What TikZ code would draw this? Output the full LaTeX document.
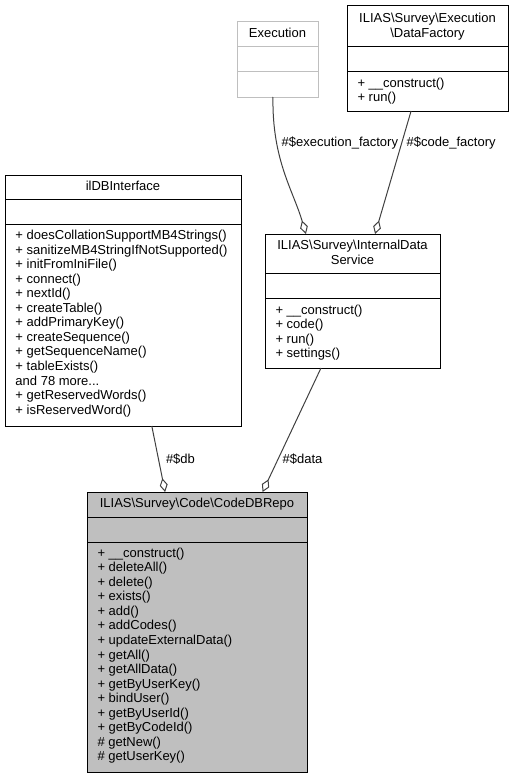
\documentclass[tikz,border=0pt]{standalone}
\usepackage{fontspec}
\setmainfont{Liberation Sans}
\usetikzlibrary{arrows.meta,calc}
\definecolor{edgegray}{HTML}{404040}
\definecolor{boxgray}{HTML}{BFBFBF}
\newcommand{\mydotsx}{...}
\tikzset{
  cls/.style={draw=black, line width=1pt, fill=white, inner sep=0pt, outer sep=0pt, rectangle},
  txt/.style={inner sep=0pt, outer sep=0pt, font=\fontsize{13}{14.55}\selectfont},
  mem/.style={txt, anchor=base west},
  hdr/.style={txt, anchor=base},
  sepline/.style={line width=1pt},
  agg/.style={draw=edgegray, line width=1pt, -{Diamond[open, length=14pt, width=8pt]}},
  elab/.style={txt, anchor=base west},
}
\begin{document}
\begin{tikzpicture}[x=1pt, y=-1pt]
\useasboundingbox (0,0) rectangle (515,779);

% ---- Execution (grey outline)
\node[cls, draw=boxgray, minimum width=81pt, minimum height=76pt] (exec) at (277.5,59) {};
\draw[sepline, boxgray] (237,46) -- (318,46);
\draw[sepline, boxgray] (237,71) -- (318,71);
\node[hdr] (exech) at (277.5,37) {Execution};

% ---- DataFactory
\node[cls, minimum width=161pt, minimum height=106pt] (df) at (427.5,58) {};
\draw[sepline] (347,46) -- (508,46);
\draw[sepline] (347,71) -- (508,71);
\node[hdr] (dfh1) at (427.5,22.5) {ILIAS\textbackslash Survey\textbackslash Execution};
\node[hdr] (dfh2) at (427.5,37) {\textbackslash DataFactory};
\node[mem] (dfm1) at (357.5,87) {+ \_\_construct()};
\node[mem] (dfm2) at (357.5,101.5) {+ run()};

% ---- ilDBInterface
\node[cls, minimum width=236pt, minimum height=251pt] (db) at (123,300.5) {};
\draw[sepline] (5,199.5) -- (241,199.5);
\draw[sepline] (5,224) -- (241,224);
\node[hdr] (dbh) at (123,190.5) {ilDBInterface};
\foreach \t [count=\i] in {
  + doesCollationSupportMB4Strings(),
  + sanitizeMB4StringIfNotSupported(),
  + initFromIniFile(),
  + connect(),
  + nextId(),
  + createTable(),
  + addPrimaryKey(),
  + createSequence(),
  + getSequenceName(),
  + tableExists(),
  and 78 more\mydotsx,
  + getReservedWords(),
  + isReservedWord()}
  \node[mem] (dbm\i) at (15.5,{239.5+14.55*(\i-1)}) {\t};

% ---- InternalDataService
\node[cls, minimum width=175pt, minimum height=134pt] (ids) at (352.5,301) {};
\draw[sepline] (265,273) -- (440,273);
\draw[sepline] (265,298) -- (440,298);
\node[hdr] (idsh1) at (352.5,249.3) {ILIAS\textbackslash Survey\textbackslash InternalData};
\node[hdr] (idsh2) at (352.5,264) {Service};
\foreach \t [count=\i] in {
  + \_\_construct(),
  + code(),
  + run(),
  + settings()}
  \node[mem] (idsm\i) at (275.5,{314+14.55*(\i-1)}) {\t};

% ---- CodeDBRepo (grey fill)
\node[cls, fill=boxgray, minimum width=220pt, minimum height=280.7pt] (repo) at (197,632.35) {};
\draw[sepline] (87,517) -- (307,517);
\draw[sepline] (87,542) -- (307,542);
\node[hdr] (repoh) at (197,507.3) {ILIAS\textbackslash Survey\textbackslash Code\textbackslash CodeDBRepo};
\foreach \t [count=\i] in {
  + \_\_construct(),
  + deleteAll(),
  + delete(),
  + exists(),
  + add(),
  + addCodes(),
  + updateExternalData(),
  + getAll(),
  + getAllData(),
  + getByUserKey(),
  + bindUser(),
  + getByUserId(),
  + getByCodeId(),
  \# getNew(),
  \# getUserKey()}
  \node[mem] (repom\i) at (97.5,{557.3+14.53*(\i-1)}) {\t};

% ---- connectors
\draw[agg] ($(exec.south west)!0.444!(exec.south east)$) .. controls (272,160) and (293,190) .. ($(ids.north west)!0.234!(ids.north east)$);
\draw[agg] ($(df.south west)!0.398!(df.south east)$) -- ($(ids.north west)!0.629!(ids.north east)$);
\draw[agg] ($(db.south west)!0.622!(db.south east)$) -- ($(repo.north west)!0.355!(repo.north east)$);
\draw[agg] ($(ids.south west)!0.32!(ids.south east)$) -- ($(repo.north west)!0.798!(repo.north east)$);

% ---- connector labels
\node[elab] (lexec) at (281.7,146) {\#\$execution\_factory};
\node[elab] (lcode) at (406.7,146) {\#\$code\_factory};
\node[elab] (ldb) at (166,463) {\#\$db};
\node[elab] (ldata) at (282.7,463) {\#\$data};
\end{tikzpicture}
\end{document}
